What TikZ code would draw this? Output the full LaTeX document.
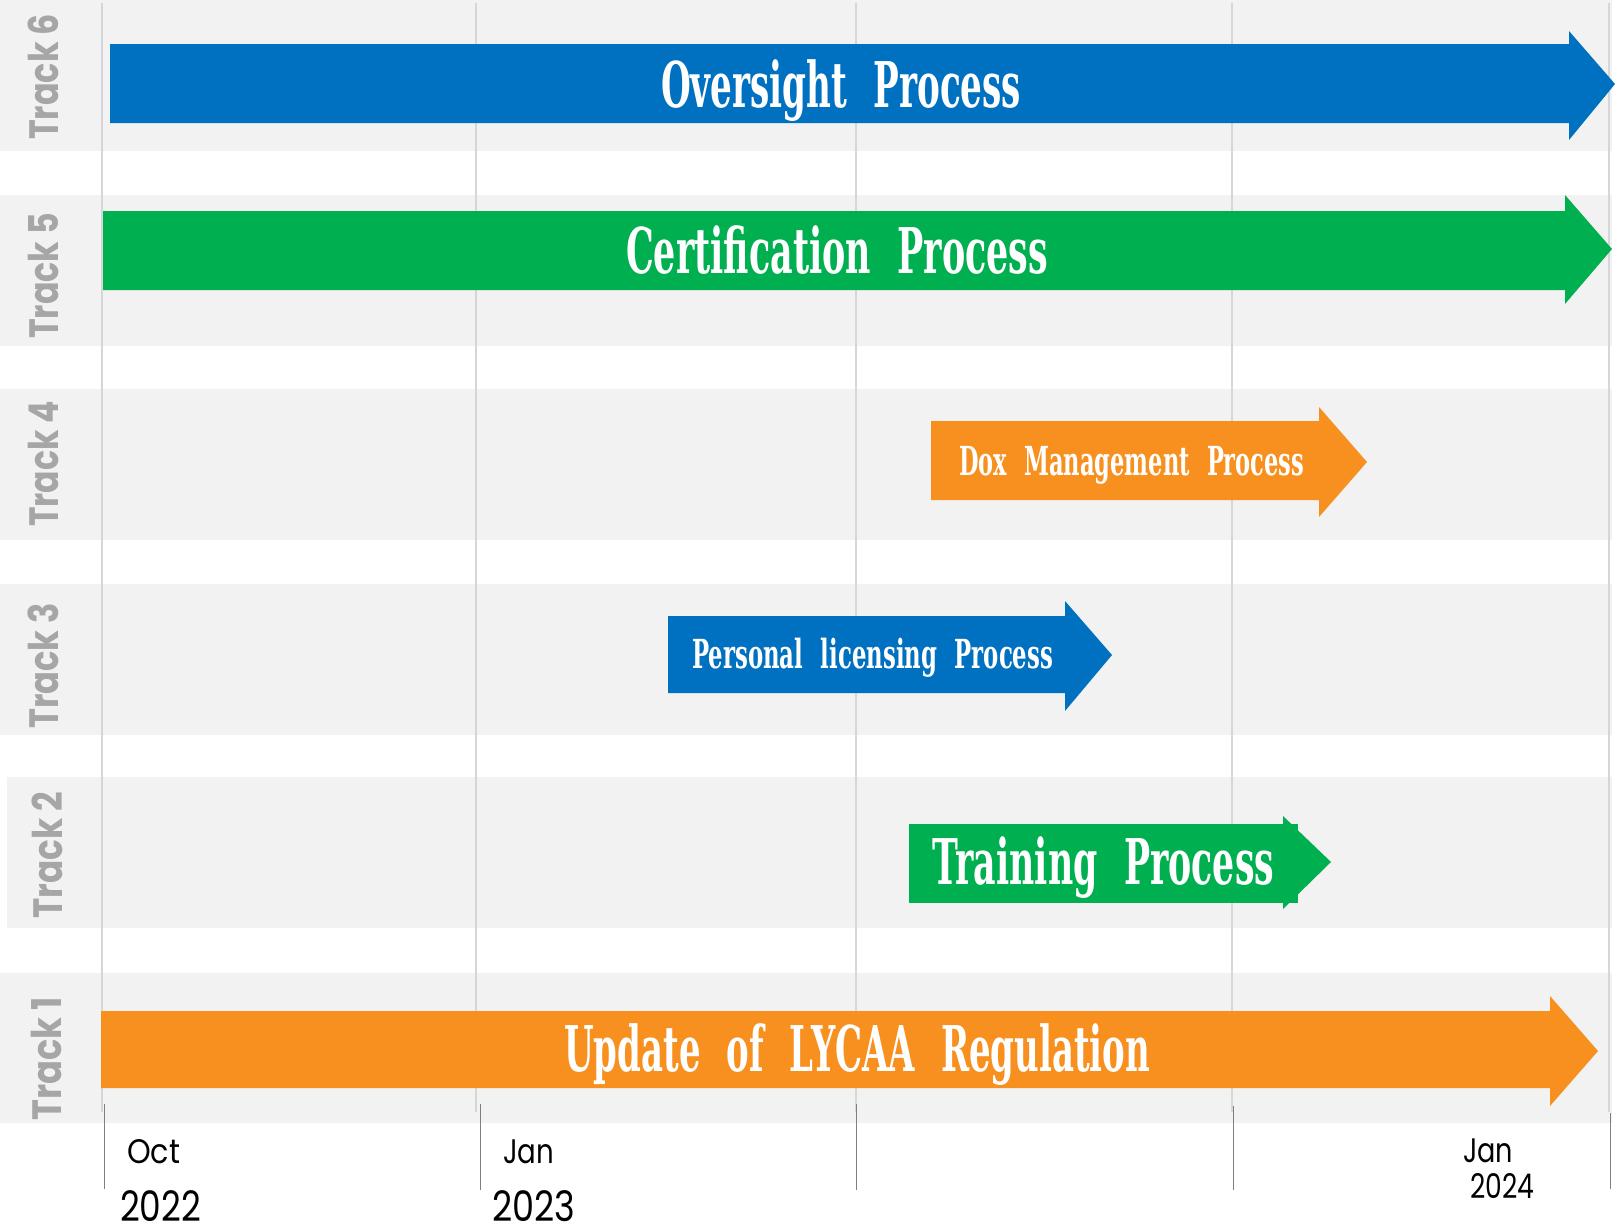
\documentclass[tikz,border=0pt]{standalone}
\usepackage{fontspec}
\usepackage{graphicx}
\newfontfamily\slabfont[WordSpace=2.2]{DejaVu Serif}
\newfontfamily\geofont{Poppins}
\definecolor{bandgray}{HTML}{F2F2F2}
\definecolor{gridgray}{HTML}{D6D6D6}
\definecolor{tickgray}{HTML}{7F7F7F}
\definecolor{trackgray}{HTML}{A6A6A6}
\definecolor{pblue}{HTML}{0070C0}
\definecolor{pgreen}{HTML}{00B050}
\definecolor{porange}{HTML}{F8901F}
\newcommand\fitto[2]{\resizebox{#1}{\height}{#2}}
\tikzset{
  band/.style={fill=bandgray},
  gridline/.style={draw=gridgray, line width=1.2pt},
  tickline/.style={draw=tickgray, line width=1pt},
  bigproc/.style={text=white, inner sep=0pt, anchor=base west, font=\slabfont\bfseries\fontsize{63}{63}\selectfont},
  smallproc/.style={text=white, inner sep=0pt, anchor=base west, font=\slabfont\bfseries\fontsize{40}{40}\selectfont},
  tracklabel/.style={text=trackgray, rotate=90, inner sep=0pt, anchor=base west, font=\geofont\bfseries\fontsize{41}{41}\selectfont},
  monthlabel/.style={text=black, inner sep=0pt, anchor=base west, font=\geofont\fontsize{34}{34}\selectfont},
  yearlabel/.style={text=black, inner sep=0pt, anchor=base west, font=\geofont\fontsize{42}{42}\selectfont},
}
\begin{document}
\begin{tikzpicture}[x=1pt,y=-1pt]
\useasboundingbox (0,0) rectangle (1615,1229);
% track bands
\fill[band] (0,0) rectangle (1612,151);
\fill[band] (0,195) rectangle (1612,346);
\fill[band] (0,389) rectangle (1612,540);
\fill[band] (0,584) rectangle (1612,735);
\fill[band] (7,777) rectangle (1612,928);
\fill[band] (0,973) rectangle (1612,1123);
% grid lines
\foreach \gx in {102,476,856,1232,1609}{
  \draw[gridline] (\gx,3) -- (\gx,1112);
}
% track labels
\node[tracklabel] (t6) at (58,140) {\fitto{126pt}{Track 6}};
\node[tracklabel] (t5) at (58,339) {\fitto{126pt}{Track 5}};
\node[tracklabel] (t4) at (58,527) {\fitto{126pt}{Track 4}};
\node[tracklabel] (t3) at (58,729) {\fitto{126pt}{Track 3}};
\node[tracklabel] (t2) at (62,919) {\fitto{127pt}{Track 2}};
\node[tracklabel] (t1) at (61,1121) {\fitto{124pt}{Track 1}};
% process arrows
\fill[pblue] (110,44) -- (1569,44) -- (1569,31) -- (1615,84) -- (1569,140) -- (1569,123) -- (110,123) -- cycle;
\fill[pgreen] (103,211) -- (1565,211) -- (1565,195) -- (1612,249) -- (1565,304) -- (1565,290) -- (103,290) -- cycle;
\fill[porange] (931,421) -- (1319,421) -- (1319,407) -- (1367,462) -- (1319,517) -- (1319,500) -- (931,500) -- cycle;
\fill[pblue] (668,616) -- (1065,616) -- (1065,601) -- (1112,655) -- (1065,711) -- (1065,693) -- (668,693) -- cycle;
\fill[pgreen] (909,824) rectangle (1298,903);
\fill[pgreen] (1283,816) -- (1331,862) -- (1283,909) -- cycle;
\fill[porange] (101,1011) -- (1550,1011) -- (1550,996) -- (1598,1051) -- (1550,1106) -- (1550,1088) -- (101,1088) -- cycle;
% process labels
\node[bigproc] (oversight) at (661,107) {\fitto{360pt}{Oversight Process}};
\node[bigproc] (cert) at (626,273) {\fitto{422pt}{Certification Process}};
\node[smallproc] (dox) at (959,475) {\fitto{345pt}{Dox Management Process}};
\node[smallproc] (perslic) at (692,668) {\fitto{361pt}{Personal licensing Process}};
\node[bigproc] (training) at (932,884) {\fitto{342pt}{Training Process}};
\node[bigproc] (lycaa) at (564,1071) {\fitto{586pt}{Update of LYCAA Regulation}};
% axis ticks
\draw[tickline] (104,1104) -- (104,1189);
\draw[tickline] (480,1104) -- (480,1190);
\draw[tickline] (856,1104) -- (856,1190);
\draw[tickline] (1233,1106) -- (1233,1190);
\draw[tickline] (1610,1113) -- (1610,1189);
% date labels
\node[monthlabel] (oct) at (127,1163) {\fitto{53pt}{Oct}};
\node[yearlabel] (y2022) at (120,1221) {\fitto{81pt}{2022}};
\node[monthlabel] (jan23) at (503,1163) {\fitto{51pt}{Jan}};
\node[yearlabel] (y2023) at (492,1221) {\fitto{83pt}{2023}};
\node[monthlabel] (jan24) at (1463,1162) {\fitto{50pt}{Jan}};
\node[monthlabel] (y2024) at (1470,1198) {\fitto{64pt}{2024}};
\end{tikzpicture}
\end{document}
